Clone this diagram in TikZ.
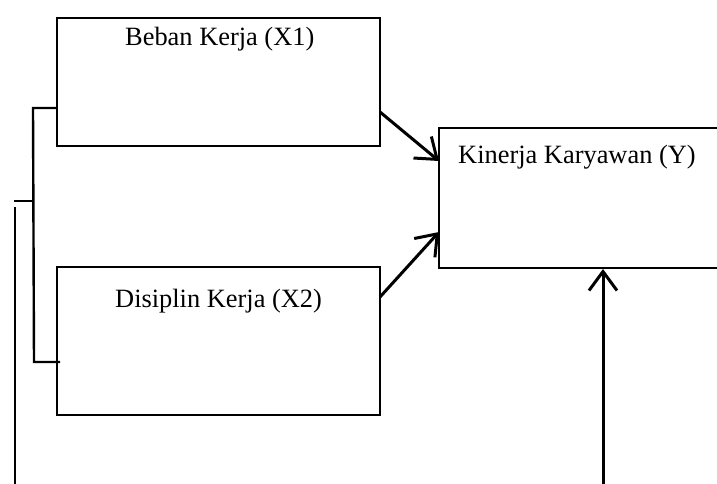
\documentclass[tikz,border=0pt]{standalone}
\usepackage{fontspec}
\setmainfont{Liberation Serif}
\usetikzlibrary{arrows.meta}
\begin{document}
\begin{tikzpicture}[x=1pt,y=-1pt,
  boxline/.style={line width=2.4pt},
  conn/.style={line width=3pt,-{Straight Barb[length=19pt,width=28pt,line width=3pt]}},
  lbl/.style={font=\fontsize{26.4}{30}\selectfont,anchor=base west,inner sep=0pt}]
\useasboundingbox (0,0) rectangle (717,484);
% boxes
\coordinate (x1tl) at (57,18);
\coordinate (x1br) at (380,146);
\draw[boxline] (x1tl) rectangle (x1br);
\coordinate (x2tl) at (57,267);
\coordinate (x2br) at (380,415);
\draw[boxline] (x2tl) rectangle (x2br);
\draw[boxline] (720,128) -- (439,128) -- (439,268) -- (720,268);
\node[lbl] (t1) at (125,46) {Beban Kerja (X1)};
\node[lbl] (t2) at (115,307) {Disiplin Kerja (X2)};
\node[lbl] (t3) at (458,163) {Kinerja Karyawan (Y)};
% bracket
\coordinate (b1) at (57,108);
\coordinate (b2) at (33,108);
\coordinate (b3) at (34,362);
\coordinate (b4) at (60,362);
\draw[boxline] (b1) -- (b2) -- (b3) -- (b4);
\coordinate (m1) at (14,201);
\coordinate (m2) at (34,201);
\draw[boxline] (m1) -- (m2);
\coordinate (l1) at (15,207);
\coordinate (l2) at (15,484);
\draw[boxline] (l1) -- (l2);
% arrows
\coordinate (a1s) at (380,112);
\coordinate (a1e) at (439,161);
\draw[conn] (a1s) -- (a1e);
\coordinate (a2s) at (380,297);
\coordinate (a2e) at (439,232);
\draw[conn] (a2s) -- (a2e);
\coordinate (a3s) at (603,484);
\coordinate (a3e) at (603,269);
\draw[conn] (a3s) -- (a3e);
\end{tikzpicture}
\end{document}
